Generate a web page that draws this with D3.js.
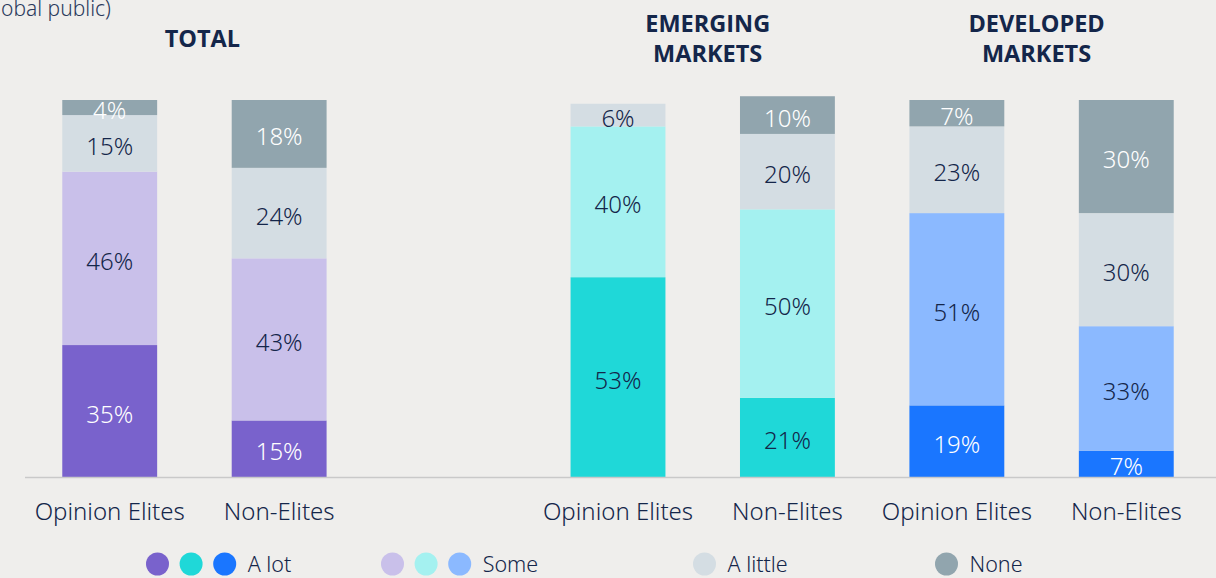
<!DOCTYPE html>
<html>
<head>
<meta charset="utf-8">
<script src="https://cdn.jsdelivr.net/npm/d3@7/dist/d3.min.js"></script>
<style>
  html, body { margin: 0; padding: 0; background: #efeeec; }
  svg { display: block; }
  text { font-family: "Open Sans", "Noto Sans", sans-serif; }
  .light { font-family: "Noto Sans", "Open Sans", sans-serif; font-weight: 300; }
</style>
</head>
<body>
<svg id="chart" width="1216" height="578"></svg>
<script>
// ---- data ----
const groups = ["TOTAL", "EMERGING MARKETS", "DEVELOPED MARKETS"];
const groupTitleLines = [["TOTAL"], ["EMERGING", "MARKETS"], ["DEVELOPED", "MARKETS"]];
const audiences = ["Opinion Elites", "Non-Elites"];
const levels = ["A lot", "Some", "A little", "None"];

// one value per bar: TOTAL OE, TOTAL NE, EM OE, EM NE, DM OE, DM NE
const aLot    = [35, 15, 53, 21, 19, 7];
const some    = [46, 43, 40, 50, 51, 33];
const aLittle = [15, 24, 6, 20, 23, 30];
const none    = [4, 18, 0, 10, 7, 30];

// colours per group for "A lot" and "Some"; shared for "A little" / "None"
const aLotColors = ["#7962cc", "#1fd8d8", "#1a76ff"];
const someColors = ["#c9c0ea", "#a4f1f0", "#8bb9ff"];
const aLittleColor = "#d4dde3";
const noneColor = "#91a5ae";

// label text colour on the "A lot" fill of each group
const aLotLabel = ["#ffffff", "#14264a", "#ffffff"];

const navy = "#14264a";

// ---- build bars ----
const slots = ["T-OE", "T-NE", "gap", "EM-OE", "EM-NE", "DM-OE", "DM-NE"];
const barSlots = ["T-OE", "T-NE", "EM-OE", "EM-NE", "DM-OE", "DM-NE"];
const bars = barSlots.map((slot, i) => {
  const g = Math.floor(i / 2);
  return {
    slot, group: g, audience: audiences[i % 2],
    values: [aLot[i], some[i], aLittle[i], none[i]],
    fills: [aLotColors[g], someColors[g], aLittleColor, noneColor],
    labelColors: [aLotLabel[g], navy, navy, "#ffffff"]
  };
});

const svg = d3.select("#chart");
const W = 1216, H = 578;

const x = d3.scaleBand()
  .domain(slots)
  .range([25, 1211])
  .paddingInner(0.44)
  .paddingOuter(0.22);

const y = d3.scaleLinear().domain([0, 100]).range([477, 100]);

// subtitle fragment at the top-left edge
svg.append("text")
  .attr("class", "light")
  .attr("x", 1).attr("y", 16)
  .attr("fill", "#2b3a5c")
  .attr("font-size", 21)
  .text("obal public)");

// stacked segments
const barG = svg.append("g");
bars.forEach(b => {
  let acc = 0;
  b.values.forEach((v, k) => {
    const y0 = acc, y1 = acc + v;
    acc = y1;
    if (v <= 0) return;
    barG.append("rect")
      .attr("x", x(b.slot))
      .attr("width", x.bandwidth())
      .attr("y", y(y1))
      .attr("height", y(y0) - y(y1))
      .attr("fill", b.fills[k]);
    barG.append("text")
      .attr("class", "light")
      .attr("x", x(b.slot) + x.bandwidth() / 2)
      .attr("y", (y(y0) + y(y1)) / 2)
      .attr("dy", "0.48em")
      .attr("text-anchor", "middle")
      .attr("font-size", 24)
      .attr("fill", b.labelColors[k])
      .text(v + "%");
  });
});

// baseline
svg.append("line")
  .attr("x1", 25).attr("x2", W)
  .attr("y1", y(0) + 0.5).attr("y2", y(0) + 0.5)
  .attr("stroke", "#c9c9c9").attr("stroke-width", 1.5);

// category labels under each bar
svg.append("g").selectAll("text")
  .data(bars)
  .join("text")
  .attr("class", "light")
  .attr("x", d => x(d.slot) + x.bandwidth() / 2)
  .attr("y", 520)
  .attr("text-anchor", "middle")
  .attr("font-size", 24)
  .attr("fill", navy)
  .text(d => d.audience);

// group titles
const titleNudge = [8, 5, -5];
groups.forEach((g, gi) => {
  const a = barSlots[gi * 2], b = barSlots[gi * 2 + 1];
  const cx = (x(a) + x(b) + x.bandwidth()) / 2 + titleNudge[gi];
  const lines = groupTitleLines[gi];
  const t = svg.append("text")
    .attr("text-anchor", "middle")
    .attr("font-size", 23.5)
    .attr("font-weight", 700)
    .attr("fill", navy);
  const firstY = lines.length === 1 ? 47 : 32;
  lines.forEach((ln, li) => {
    t.append("tspan").attr("x", cx).attr("y", firstY + li * 30).text(ln);
  });
});

// legend
const legendItems = [
  { label: levels[0], colors: aLotColors, x: 146 },
  { label: levels[1], colors: someColors, x: 381 },
  { label: levels[2], colors: [aLittleColor], x: 693 },
  { label: levels[3], colors: [noneColor], x: 935 }
];
const legY = 564, r = 11.5, gap = 33.6;
const leg = svg.append("g");
legendItems.forEach(it => {
  it.colors.forEach((c, ci) => {
    leg.append("circle")
      .attr("cx", it.x + r + ci * gap)
      .attr("cy", legY)
      .attr("r", r)
      .attr("fill", c);
  });
  leg.append("text")
    .attr("class", "light")
    .attr("x", it.x + r + (it.colors.length - 1) * gap + 23)
    .attr("y", legY)
    .attr("dy", "0.36em")
    .attr("font-size", 21.5)
    .attr("fill", navy)
    .text(it.label);
});
</script>
</body>
</html>
